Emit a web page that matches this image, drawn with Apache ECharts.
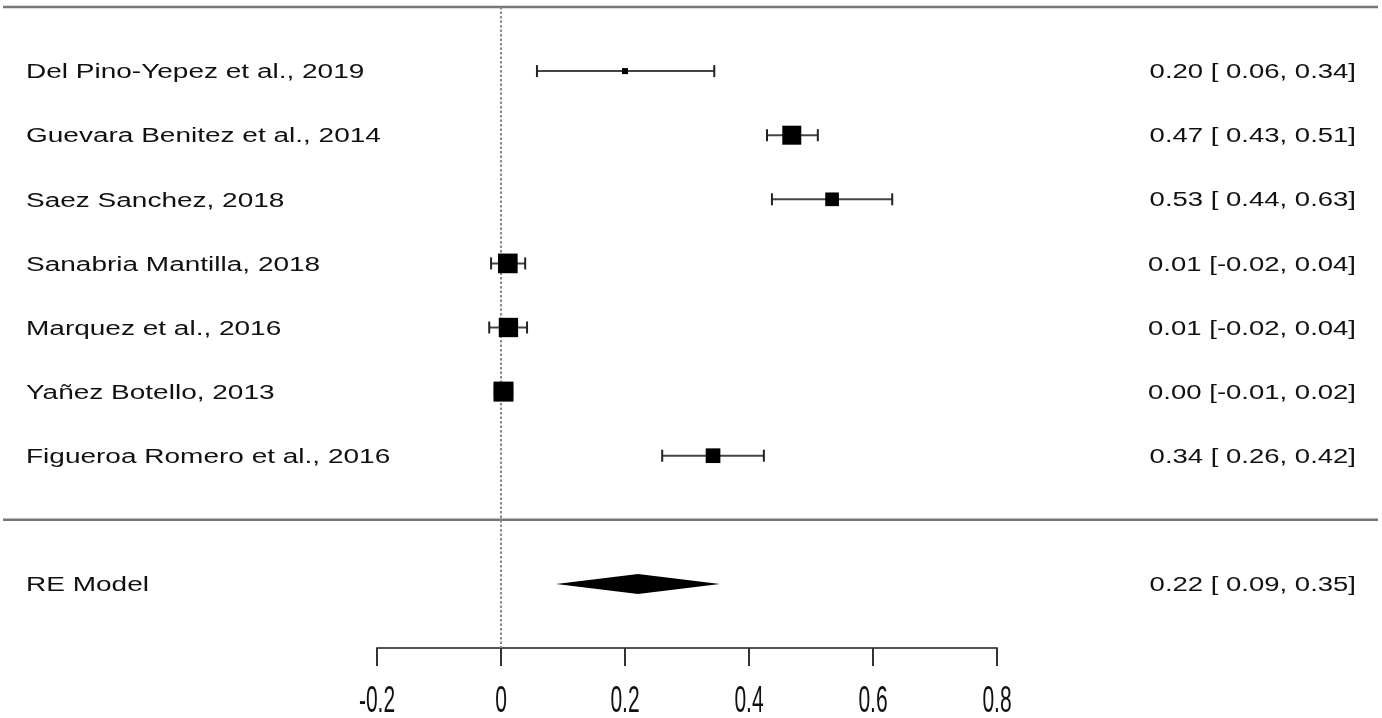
<!DOCTYPE html>
<html>
<head>
<meta charset="utf-8">
<script src="https://cdn.jsdelivr.net/npm/echarts@6/dist/echarts.min.js"></script>
<style>
html,body{margin:0;padding:0;background:#fff;}
#chart{width:1382px;height:718px;}
</style>
</head>
<body>
<div id="chart"></div>
<script>
const studies = ['Del Pino-Yepez et al., 2019','Guevara Benitez et al., 2014','Saez Sanchez, 2018','Sanabria Mantilla, 2018','Marquez et al., 2016','Yañez Botello, 2013','Figueroa Romero et al., 2016'];
const estimates = [0.200, 0.469, 0.534, 0.011, 0.012, 0.004, 0.342];
const ciLower   = [0.058, 0.429, 0.437, -0.016, -0.019, -0.010, 0.260];
const ciUpper   = [0.344, 0.511, 0.631, 0.039, 0.042, 0.018, 0.424];
const weights   = [11.0, 14.9, 13.3, 15.1, 15.0, 15.2, 13.6];
const modelLabel = 'RE Model';
const modelEstimate = 0.221;
const modelLower = 0.089;
const modelUpper = 0.353;
const xTicks = [-0.2, 0, 0.2, 0.4, 0.6, 0.8];
const xTickLabels = ['-0.2', '0', '0.2', '0.4', '0.6', '0.8'];

const FONT = "'Liberation Sans', Arial, Helvetica, sans-serif";
const modelRow = studies.length + 1;
const wMin = Math.min(...weights), wMax = Math.max(...weights);
function squareSize(w){ return 6 + (w - wMin) / (wMax - wMin) * 14; }
const anyNegLo = ciLower.concat([modelLower]).some(v => v < 0);
function fmtLo(v){ const s = v.toFixed(2); return (anyNegLo && v >= 0) ? ' ' + s : s; }
function fmtRow(e, l, u){ return e.toFixed(2) + ' [' + fmtLo(l) + ', ' + u.toFixed(2) + ']'; }
const leftLabels = studies.concat([modelLabel]);
const rightLabels = studies.map((_, i) => fmtRow(estimates[i], ciLower[i], ciUpper[i])).concat([fmtRow(modelEstimate, modelLower, modelUpper)]);
const labelRows = studies.map((_, i) => i).concat([modelRow]);

const chart = echarts.init(document.getElementById('chart'));
const option = {
  animation: false,
  backgroundColor: '#fff',
  grid: {left: 377, right: 385, top: 7, bottom: 70},
  xAxis: {
    type: 'value', min: -0.2, max: 0.8, interval: 0.2, position: 'bottom',
    axisLine: {show: true, onZero: false, lineStyle: {color: '#555', width: 2}},
    axisTick: {show: true, length: 18, inside: false, lineStyle: {color: '#333', width: 2}},
    axisLabel: {show: false},
    splitLine: {show: false}
  },
  yAxis: {
    type: 'value', min: -1, max: 9, inverse: true, show: false
  },
  series: [
    { // horizontal rules
      type: 'custom', encode: {x: 0, y: 1},
      data: [[0, -1], [0, studies.length]],
      renderItem: function(params, api){
        const y = api.coord([0, api.value(1)])[1];
        return {type: 'line', shape: {x1: 3, y1: y, x2: api.getWidth() - 4, y2: y},
          style: {stroke: '#777', lineWidth: 2.5}};
      }
    },
    { // zero reference line
      type: 'custom', encode: {x: 0, y: 1},
      data: [[0, -1]],
      renderItem: function(params, api){
        const a = api.coord([0, -1]);
        const b = api.coord([0, 9]);
        return {type: 'line', shape: {x1: a[0], y1: a[1], x2: b[0], y2: b[1]},
          style: {stroke: '#888', lineWidth: 2, lineDash: [2.5, 2]}};
      }
    },
    { // study CIs and squares
      type: 'custom', encode: {x: 0, y: 1},
      data: studies.map((_, i) => [estimates[i], i, ciLower[i], ciUpper[i]]),
      renderItem: function(params, api){
        const i = params.dataIndex;
        const row = api.value(1);
        const pE = api.coord([api.value(0), row]);
        const pL = api.coord([api.value(2), row]);
        const pU = api.coord([api.value(3), row]);
        const s = squareSize(weights[i]);
        return {type: 'group', children: [
          {type: 'line', shape: {x1: pL[0], y1: pL[1], x2: pU[0], y2: pU[1]}, style: {stroke: '#444', lineWidth: 2}},
          {type: 'line', shape: {x1: pL[0], y1: pL[1] - 6, x2: pL[0], y2: pL[1] + 6}, style: {stroke: '#222', lineWidth: 2}},
          {type: 'line', shape: {x1: pU[0], y1: pU[1] - 6, x2: pU[0], y2: pU[1] + 6}, style: {stroke: '#222', lineWidth: 2}},
          {type: 'rect', shape: {x: pE[0] - s / 2, y: pE[1] - s / 2, width: s, height: s}, style: {fill: '#000'}}
        ]};
      }
    },
    { // summary diamond
      type: 'custom', encode: {x: 0, y: 1},
      data: [[modelEstimate, modelRow, modelLower, modelUpper]],
      renderItem: function(params, api){
        const row = api.value(1);
        const pE = api.coord([api.value(0), row]);
        const pL = api.coord([api.value(2), row]);
        const pU = api.coord([api.value(3), row]);
        const h = 10;
        return {type: 'polygon', shape: {points: [[pL[0], pL[1]], [pE[0], pE[1] - h], [pU[0], pU[1]], [pE[0], pE[1] + h]]},
          style: {fill: '#000'}};
      }
    },
    { // left labels
      type: 'custom', encode: {x: 0, y: 1},
      data: labelRows.map(r => [0, r]),
      renderItem: function(params, api){
        const y = api.coord([0, api.value(1)])[1];
        return {type: 'text', x: 26, y: y + 1.5, scaleX: 1, scaleY: 0.74,
          style: {text: leftLabels[params.dataIndex], x: 0, y: 0, fill: '#111', fontSize: 28, fontFamily: FONT, align: 'left', verticalAlign: 'middle'}};
      }
    },
    { // right labels
      type: 'custom', encode: {x: 0, y: 1},
      data: labelRows.map(r => [0, r]),
      renderItem: function(params, api){
        const y = api.coord([0, api.value(1)])[1];
        return {type: 'text', x: api.getWidth() - 26, y: y + 1.5, scaleX: 1, scaleY: 0.74,
          style: {text: rightLabels[params.dataIndex], x: 0, y: 0, fill: '#111', fontSize: 27.5, fontFamily: FONT, align: 'right', verticalAlign: 'middle'}};
      }
    },
    { // x tick labels
      type: 'custom', encode: {x: 0, y: 1},
      data: xTicks.map(v => [v, 9]),
      renderItem: function(params, api){
        const p = api.coord([api.value(0), 9]);
        return {type: 'text', x: p[0], y: p[1] + 54, scaleX: 1, scaleY: 1.75,
          style: {text: xTickLabels[params.dataIndex], x: 0, y: 0, fill: '#111', fontSize: 21, fontFamily: FONT, align: 'center', verticalAlign: 'middle'}};
      }
    }
  ]
};
chart.setOption(option);
</script>
</body>
</html>
